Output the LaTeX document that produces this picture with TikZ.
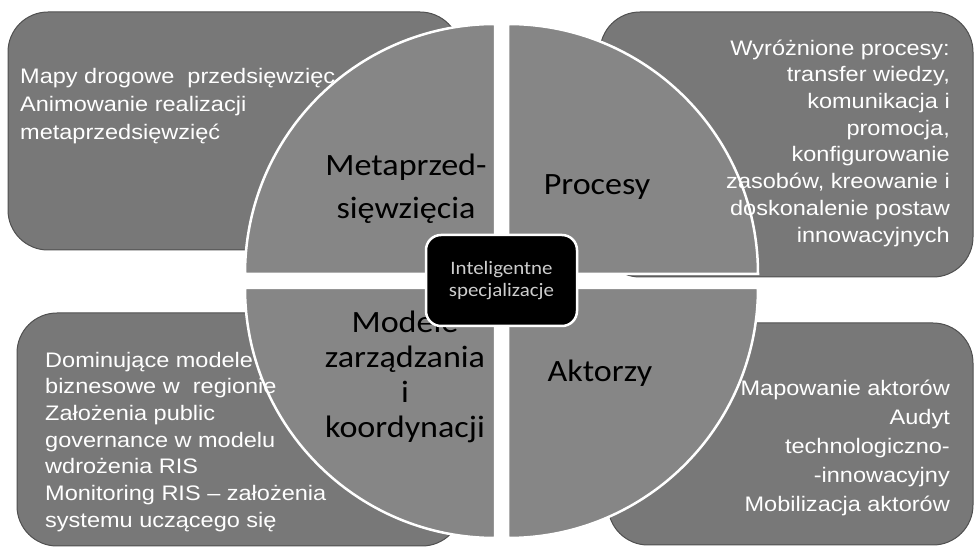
\documentclass[tikz,border=0pt]{standalone}
\usepackage{fontspec}
\setmainfont{Liberation Sans}
\newfontfamily\notefont[FakeStretch=1.12]{Liberation Sans}
\newfontfamily\partfont[FakeStretch=1.1]{Carlito}
\definecolor{fieldgray}{RGB}{120,120,120}
\definecolor{partgray}{RGB}{134,134,134}
\definecolor{rimgray}{RGB}{80,80,80}
\definecolor{coretext}{RGB}{205,205,205}

\begin{document}
\begin{tikzpicture}[x=1pt, y=1pt,
   field/.style={fill=fieldgray, draw=rimgray, line width=1pt, rounded corners=40pt},
   part/.style={fill=partgray, draw=white, line width=2.5pt},
   note/.style={text=white, inner sep=0pt},
   partname/.style={inner sep=0pt, align=center},
   core/.style={fill=black, draw=white, line width=2.5pt, rounded corners=15pt}]
   \useasboundingbox (0,0) rectangle (975,549);

   \draw[field] (8,299) rectangle (460,537);
   \draw[field] (600,272) rectangle (973,537);
   \draw[field] (17,3) rectangle (462,236);
   \draw[field] (608,4) rectangle (973,226);

   \draw[part] (495,275) -- (495,525) arc[start angle=90, end angle=180, radius=250] -- cycle;
   \draw[part] (508,275) -- (758,275) arc[start angle=0, end angle=90, radius=250] -- cycle;
   \draw[part] (495,261) -- (245,261) arc[start angle=180, end angle=270, radius=250] -- cycle;
   \draw[part] (508,261) -- (508,11) arc[start angle=270, end angle=360, radius=250] -- cycle;

   \node (mapy) at (20,485.6) [note, anchor=north west, align=left,
      font=\notefont\fontsize{21}{28}\selectfont]
      {\strut Mapy drogowe~ przedsięwzięc\\Animowanie realizacji\\metaprzedsięwzięć};
   \node (wyroz) at (950,512.7) [note, anchor=north east, align=right,
      font=\notefont\fontsize{21}{26.7}\selectfont]
      {\strut Wyróżnione procesy:\\transfer wiedzy,\\komunikacja i\\promocja,\\konfigurowanie\\
       zasobów, kreowanie i\\doskonalenie postaw\\innowacyjnych};
   \node (domin) at (45,200.7) [note, anchor=north west, align=left,
      font=\notefont\fontsize{21}{26.7}\selectfont]
      {\strut Dominujące modele\\biznesowe w~ regionie\\Założenia public\\governance w modelu\\
       wdrożenia RIS\\Monitoring RIS – założenia\\systemu uczącego się};
   \node (mapow) at (950,174.3) [note, anchor=north east, align=right,
      font=\notefont\fontsize{21}{29}\selectfont]
      {\strut Mapowanie aktorów\\Audyt\\technologiczno-\\-innowacyjny\\Mobilizacja aktorów};

   \node (meta) at (406,404.1) [partname, anchor=north,
      font=\partfont\fontsize{31}{43}\selectfont] {\strut Metaprzed-\\sięwzięcia};
   \node (proc) at (597,354) [partname, anchor=base,
      font=\partfont\fontsize{31}{43}\selectfont] {Procesy};
   \node (model) at (405,241.5) [partname, anchor=north,
      font=\partfont\fontsize{31}{35}\selectfont] {\strut Modele\\zarządzania\\i\\koordynacji};
   \node (aktor) at (600,167) [partname, anchor=base,
      font=\partfont\fontsize{31}{43}\selectfont] {Aktorzy};

   \node (core) at (501.5,268.5) [core, minimum width=151pt, minimum height=91pt,
      align=center, text=coretext, font=\partfont\fontsize{19}{22.5}\selectfont]
      {Inteligentne\\specjalizacje};
\end{tikzpicture}
\end{document}
